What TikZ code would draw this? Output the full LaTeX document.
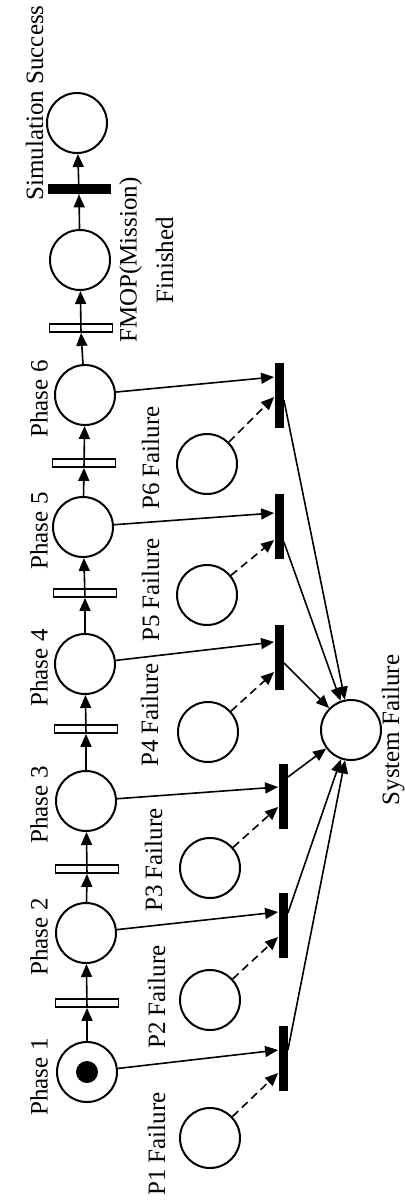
\documentclass[tikz,border=0pt]{standalone}
\usepackage{fontspec}
\setmainfont{Liberation Serif}
\usetikzlibrary{arrows.meta,calc}
\begin{document}
\begin{tikzpicture}[x=0.5pt,y=-0.5pt,
  place/.style={circle,draw,line width=1pt,minimum size=30pt,inner sep=0pt},
  opentr/.style={rectangle,draw,line width=0.9pt,minimum width=31.5pt,minimum height=4pt,inner sep=0pt},
  blacktr/.style={rectangle,fill=black,minimum width=31.5pt,minimum height=5pt,inner sep=0pt},
  failtr/.style={rectangle,fill=black,minimum width=4.5pt,minimum height=32.5pt,inner sep=0pt},
  arc/.style={line width=0.8pt,-{Triangle[length=6.5pt,width=5.5pt]}},
  darc/.style={arc,dash pattern=on 4pt off 2.5pt},
  lbl/.style={font=\fontsize{12.5}{15}\selectfont,rotate=90,anchor=base,inner sep=0pt},
]
\useasboundingbox (0,0) rectangle (404,1200);
% main column
\node[place] (ss) at (77,123) {};
\node[blacktr] (tb) at (79,189) {};
\node[place] (fm) at (80,260) {};
\node[opentr] (t6) at (81,328) {};
\node[place] (ph6) at (85,395) {};
\node[opentr] (t5) at (84,463) {};
\node[place] (ph5) at (83,527) {};
\node[opentr] (t4) at (85,593) {};
\node[place] (ph4) at (85,664) {};
\node[opentr] (t3) at (86,729) {};
\node[place] (ph3) at (86,801) {};
\node[opentr] (t2) at (87,869) {};
\node[place] (ph2) at (86,933) {};
\node[opentr] (t1) at (87,1003) {};
\node[place] (ph1) at (87,1072) {};
\node[circle,fill=black,minimum size=11pt,inner sep=0pt] (tok) at (ph1) {};
% failure places
\node[place] (pf6) at (207,464) {};
\node[place] (pf5) at (207,595) {};
\node[place] (pf4) at (208,732) {};
\node[place] (pf3) at (210,868) {};
\node[place] (pf2) at (210,1000) {};
\node[place] (pf1) at (210,1138) {};
% failure transitions
\node[failtr] (f6) at (279,395) {};
\node[failtr] (f5) at (279,526) {};
\node[failtr] (f4) at (279,657) {};
\node[failtr] (f3) at (283,796) {};
\node[failtr] (f2) at (283,925) {};
\node[failtr] (f1) at (283,1058) {};
% system failure
\node[place] (sf) at (351,730) {};
% main arcs
\draw[arc] (ph1) -- (t1.south);
\draw[arc] (t1.south) -- (ph2);
\draw[arc] (ph2) -- (t2.south);
\draw[arc] (t2.south) -- (ph3);
\draw[arc] (ph3) -- (t3.south);
\draw[arc] (t3.south) -- (ph4);
\draw[arc] (ph4) -- (t4.south);
\draw[arc] (t4.south) -- (ph5);
\draw[arc] (ph5) -- (t5.south);
\draw[arc] (t5.south) -- (ph6);
\draw[arc] (ph6) -- (t6.south);
\draw[arc] (t6.south) -- (fm);
\draw[arc] (fm) -- (tb.south);
\draw[arc] (tb.south) -- (ss);
% phase -> failure transition
\draw[arc] (ph6) -- ($(f6.west)+(0,-18)$);
\draw[arc] (ph5) -- ($(f5.west)+(0,-13)$);
\draw[arc] (ph4) -- ($(f4.west)+(0,-15)$);
\draw[arc] (ph3) -- ($(f3.west)+(0,-9)$);
\draw[arc] (ph2) -- ($(f2.west)+(0,-13)$);
\draw[arc] (ph1) -- ($(f1.west)+(0,-8)$);
% failure place -> failure transition
\draw[darc] (pf6) -- ($(f6.west)+(0,2)$);
\draw[darc] (pf5) -- ($(f5.west)+(0,14)$);
\draw[darc] (pf4) -- ($(f4.west)+(0,15)$);
\draw[darc] (pf3) -- ($(f3.west)+(0,11)$);
\draw[darc] (pf2) -- ($(f2.west)+(0,12)$);
\draw[darc] (pf1) -- ($(f1.west)+(0,15)$);
% failure transitions -> system failure
\draw[arc] ($(f6.east)+(0,5)$) -- (sf);
\draw[arc] ($(f5.east)+(0,16)$) -- (sf);
\draw[arc] ($(f4.east)+(0,6)$) -- (sf);
\draw[arc] ($(f3.east)+(0,-19)$) -- (sf);
\draw[arc] ($(f2.east)+(0,-12)$) -- (sf);
\draw[arc] ($(f1.east)+(0,-8)$) -- (sf);
% labels
\node[lbl] (lss) at (43,103) {Simulation Success};
\node[lbl,anchor=north,align=center,font=\fontsize{12.5}{18.25}\selectfont] (lfm) at (119,260) {FMOP(Mission)\\Finished};
\node[lbl] (l6) at (47.5,399) {Phase 6};
\node[lbl] (l5) at (47.5,531) {Phase 5};
\node[lbl] (l4) at (47.5,668) {Phase 4};
\node[lbl] (l3) at (47.5,805) {Phase 3};
\node[lbl] (l2) at (47.5,937) {Phase 2};
\node[lbl] (l1) at (47.5,1077) {Phase 1};
\node[lbl] (lf6) at (159,458) {P6 Failure};
\node[lbl] (lf5) at (159,590) {P5 Failure};
\node[lbl] (lf4) at (158,715) {P4 Failure};
\node[lbl] (lf3) at (162,860) {P3 Failure};
\node[lbl] (lf2) at (165,997) {P2 Failure};
\node[lbl] (lf1) at (165,1144) {P1 Failure};
\node[lbl] (lsf) at (399,730) {System Failure};
\end{tikzpicture}
\end{document}
